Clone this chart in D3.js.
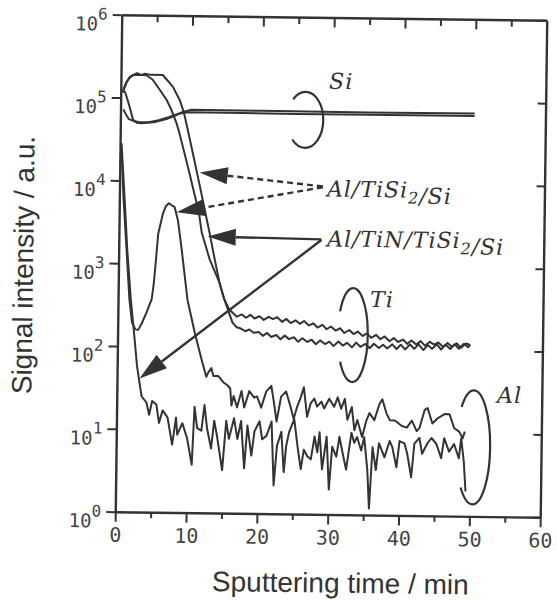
<!DOCTYPE html>
<html>
<head>
<meta charset="utf-8">
<script src="https://cdn.jsdelivr.net/npm/d3@7"></script>
<style>
  body { margin: 0; background: #fff; }
  svg { display: block; }
</style>
</head>
<body>
<svg id="drawing_region"></svg>
<script>
// axis ticks
const xMajor = [0, 10, 20, 30, 40, 50, 60];
const xMinor = [5, 15, 25, 35, 45, 55];
const yExponents = [0, 1, 2, 3, 4, 5, 6];

// [sputtering time (min), signal intensity (a.u.)]
const siA = [[0.4,7.2e4],[0.8,6.2e4],[1.2,5.5e4],[2.0,5.2e4],[2.6,5.1e4],[4.0,5.1e4],[5.4,5.4e4],[6.8,5.9e4],[8.2,6.5e4],[9.5,6.8e4],[15,6.8e4],[25,6.75e4],[35,6.8e4],[50,6.8e4]];
const siB = [[0.55,1.2e5],[1.0,9.3e4],[1.4,7.1e4],[1.8,5.4e4],[2.3,5.0e4],[3.0,4.95e4],[5.0,5.15e4],[6.5,5.6e4],[7.6,6.1e4],[8.7,6.8e4],[10,7.3e4],[20,7.3e4],[35,7.25e4],[50,7.3e4]];

const tiA = [[0.3,1.2e5],[0.5,1.35e5],[0.8,1.55e5],[1.25,1.78e5],[1.8,1.9e5],[2.3,1.98e5],[2.8,1.88e5],[3.4,1.96e5],[4.2,1.9e5],[5.9,1.9e5],
  [7.34,1.38e5],[8.35,9.5e4],[8.94,6.8e4],[9.53,4.2e4],[10.28,2.2e4],[11.03,1.15e4],[11.77,6.0e3],[12.37,3.5e3],[12.8,2.4e3],[13.5,1.23e3],[14.3,600],[15.0,380],[15.7,290],
  [16.2,263],[16.8,236],[17.5,252],[18.1,230],[18.7,250],[19.3,226],[20.0,241],[20.6,218],[21.3,238],[21.9,224],[22.5,236],[23.2,208],[23.8,226],[24.4,202],[25.1,218],[25.7,198],[26.3,214],[27.0,190],[27.6,202],[28.2,180],[28.9,194],[29.5,172],[30.1,186],[30.8,166],[31.4,178],[32.0,156],[32.7,170],[33.3,152],[33.9,163],[34.6,145],[35.2,156],[35.8,138],[36.5,150],[37.1,133],[37.7,144],[38.4,126],[39.0,138],[39.6,124],[40.3,133],[40.9,118],[41.5,130],[42.2,116],[42.8,128],[43.4,113],[44.1,126],[44.7,117],[45.3,124],[46.0,110],[46.6,123],[47.2,111],[47.9,122],[48.5,108],[49.2,122],[49.8,117]];
const tiB = [[0.3,1.15e5],[0.5,1.3e5],[0.8,1.52e5],[1.25,1.75e5],[1.8,1.88e5],[2.6,1.9e5],[3.6,1.88e5],
  [4.5,1.66e5],[5.5,1.26e5],[6.5,9.5e4],[7.2,7.2e4],[7.9,5.1e4],[8.36,3.8e4],[9.1,2.2e4],[9.84,1.26e4],[10.58,7.1e3],[11.2,4.5e3],[11.7,2.4e3],[12.86,1.15e3],[14.3,600],[15.0,380],
  [16.2,200],[16.8,176],[17.4,170],[18.0,158],[18.6,166],[19.2,152],[19.9,156],[20.5,140],[21.1,152],[21.7,136],[22.4,144],[23.0,128],[23.6,142],[24.2,129],[24.9,136],[25.5,120],[26.1,133],[26.8,120],[27.4,128],[28.0,113],[28.6,126],[29.3,114],[29.9,122],[30.5,108],[31.2,123],[31.8,110],[32.4,119],[33.1,105],[33.7,120],[34.3,107],[35.0,116],[35.6,103],[36.2,117],[36.9,104],[37.5,114],[38.1,103],[38.8,116],[39.4,102],[40.0,115],[40.6,101],[41.3,116],[41.9,103],[42.5,117],[43.2,100],[43.8,115],[44.4,104],[45.1,118],[45.7,102],[46.3,117],[47.0,104],[47.6,119],[48.2,105],[48.9,121],[49.5,110],[49.8,117]];

const alPeak = [[0.15,2.8e4],[0.35,1.5e4],[0.6,5.9e3],[1.1,1.5e3],[1.6,370],[2.0,195],[2.5,160],[2.9,158],[3.4,190],[4.05,257],[4.75,372],[5.0,560],[5.2,910],[5.55,2.3e3],[6.2,4.1e3],[6.6,5.0e3],[7.0,5.4e3],[7.4,5.1e3],[7.8,4.9e3],[8.3,3.4e3],[8.9,1.48e3],[9.8,372],[10.9,148],[11.9,71],[12.6,44],
  [12.9,50],[13.3,56],[13.6,45],[14.3,45],[15.0,38],[15.6,35],[16.0,32],[16.2,20],[16.5,26],[17.0,19],[17.6,30],[18.0,19],[18.7,30],[19.4,25],[19.8,26],[20.4,19],[21.1,30],[21.8,35],[22.2,22],[22.6,13],[23.2,26],[23.9,30],[24.6,19],[25.0,14],[25.5,20],[26.0,26],[26.4,34],[26.9,15],[27.4,22],[27.9,25],[28.3,20],[28.9,23],[29.3,19],[30.0,25],[30.7,20],[31.2,26],[31.7,19],[32.2,25],[32.6,14],[33.2,20],[33.6,10.5],[34.0,14],[34.7,8.7],[35.3,14],[35.7,17],[36.4,14],[37.1,22],[37.5,25],[38.1,17],[38.6,14],[39.3,14],[40.3,12],[41.0,11.5],[41.7,14],[42.4,10.5],[42.8,11.5],[43.5,19],[43.9,20],[44.6,13],[45.3,15],[46.3,17],[47.0,17],[47.7,11.5],[48.4,10.5],[48.9,8.7],[49.2,10.5]];
const alLow = [[0.2,2.8e4],[0.45,1.4e4],[0.75,5.9e3],[1.2,1.5e3],[1.8,370],[2.3,150],[2.8,58],[3.1,40],[3.5,25],[4.2,21],[4.6,15],[5.0,22],[5.6,20],[6.0,12],[6.5,17],[7.2,14],[7.9,6.6],[8.4,14],[8.6,8.7],[9.3,12],[10.0,7.9],[10.7,3.8],[11.0,19],[11.4,10.5],[12.0,9.8],[12.4,20],[12.8,10.5],[13.4,6],[13.8,13],[14.2,8.7],[15.0,3.3],[15.5,13],[15.9,7.9],[16.6,14],[17.1,7.9],[17.6,13],[18.1,3.5],[18.5,11.5],[19.1,5],[19.5,9.8],[20.2,13],[20.6,7.9],[21.2,8.7],[21.9,13],[22.3,2.2],[22.7,6.6],[23.3,9.8],[23.7,3.2],[24.0,6.6],[24.4,9.8],[25.1,14],[25.6,6.6],[26.1,3.5],[26.5,6],[27.0,5],[27.5,4.6],[28.0,8.7],[28.4,5.6],[28.7,9.8],[29.1,3.5],[29.7,8.7],[30.1,2.0],[30.5,6.6],[31.1,5],[31.5,8.7],[31.9,6],[32.5,3.5],[33.2,9.8],[33.6,7.4],[34.0,8.7],[34.6,6],[35.0,8.7],[35.5,3.5],[35.8,1.2],[36.2,6.6],[36.7,3.5],[37.1,7.4],[37.9,5],[38.6,7.9],[39.0,6.6],[39.6,3.8],[40.0,7.9],[40.7,7.4],[41.1,5.6],[41.7,2.9],[42.1,7.4],[42.8,8.7],[43.2,5.6],[43.9,7.4],[44.5,8.7],[45.2,7.4],[45.9,5],[46.3,8.7],[47.0,6],[47.7,7.4],[48.4,5],[48.7,8.7],[49.1,4.6],[49.4,2.0]];

const profiles = [siA, siB, tiA, tiB, alPeak, alLow];

const config = {
    parent: '#drawing_region',
    width: 557,
    height: 600,
    margin: {top: 17.5, right: 13.5, bottom: 85.5, left: 118.5},
    tilt: 0.75,
    ink: '#333333',
    xlabel: 'Sputtering time / min',
    ylabel: 'Signal intensity / a.u.'
};

const svg = d3.select(config.parent)
    .attr('width', config.width)
    .attr('height', config.height);

const inner_width = config.width - config.margin.left - config.margin.right;
const inner_height = config.height - config.margin.top - config.margin.bottom;
const cx = config.margin.left + inner_width / 2;
const cy = config.margin.top + inner_height / 2;

// the scanned figure sits slightly askew
const chart = svg.append('g')
    .attr('transform', `rotate(${config.tilt}, ${cx}, ${cy}) translate(${config.margin.left}, ${config.margin.top})`);

const xscale = d3.scaleLinear().domain([0, 60]).range([0, inner_width]);
const yscale = d3.scaleLog().domain([1, 1e6]).range([inner_height, 0]);

const monoFont = '"DejaVu Sans Mono", "Liberation Mono", monospace';
const serifFont = '"DejaVu Serif", "Liberation Serif", serif';
const sansFont = '"Liberation Sans", Arial, sans-serif';

function styleAxis(g) {
    g.selectAll('path.domain').attr('stroke', config.ink).attr('stroke-width', 2.4);
    g.selectAll('.tick line').attr('stroke', config.ink).attr('stroke-width', 2);
}

// bottom axis
chart.append('g')
    .attr('transform', `translate(0, ${inner_height})`)
    .call(d3.axisBottom(xscale).tickValues(xMajor).tickSize(10).tickSizeOuter(0).tickPadding(6))
    .call(styleAxis)
    .call(g => g.selectAll('.tick text')
        .attr('font-family', monoFont).attr('font-size', 20).attr('fill', '#444'));
chart.append('g')
    .attr('transform', `translate(0, ${inner_height})`)
    .call(d3.axisBottom(xscale).tickValues(xMinor).tickSize(6).tickSizeOuter(0).tickFormat(''))
    .call(styleAxis)
    .call(g => g.select('path.domain').remove());

// top axis, ticks inward
chart.append('g')
    .call(d3.axisTop(xscale).tickValues(xMajor.slice(1, -1)).tickSize(-10).tickSizeOuter(0).tickFormat(''))
    .call(styleAxis);
chart.append('g')
    .call(d3.axisTop(xscale).tickValues(xMinor).tickSize(-7).tickSizeOuter(0).tickFormat(''))
    .call(styleAxis)
    .call(g => g.select('path.domain').remove());

// left axis
const decades = yExponents.map(e => Math.pow(10, e));
chart.append('g')
    .call(d3.axisLeft(yscale).tickValues(decades).tickSize(9).tickSizeOuter(0).tickFormat(''))
    .call(styleAxis);

// right axis, ticks inward
chart.append('g')
    .attr('transform', `translate(${inner_width}, 0)`)
    .call(d3.axisRight(yscale).tickValues(decades).tickSize(-8).tickSizeOuter(0).tickFormat(''))
    .call(styleAxis);

// 10^n labels
const ylab = chart.append('g')
    .attr('font-family', monoFont)
    .attr('fill', '#444')
    .attr('text-anchor', 'end');
yExponents.forEach(e => {
    const t = ylab.append('text')
        .attr('x', -14)
        .attr('y', yscale(Math.pow(10, e)) + 16)
        .attr('font-size', 19);
    t.append('tspan').text('10');
    t.append('tspan').attr('dy', -11).attr('font-size', 16).text(e);
});

// profiles
const line = d3.line()
    .x(d => xscale(d[0]))
    .y(d => yscale(d[1]));

chart.append('g')
    .selectAll('path')
    .data(profiles)
    .join('path')
    .attr('d', line)
    .attr('fill', 'none')
    .attr('stroke', config.ink)
    .attr('stroke-width', 2)
    .attr('stroke-linejoin', 'round');

// annotations (placed in data coordinates)
const notes = chart.append('g').attr('fill', config.ink).attr('stroke', config.ink);

function arrow(from, to, dashed) {
    const x0 = xscale(from[0]), y0 = yscale(from[1]);
    const x1 = xscale(to[0]), y1 = yscale(to[1]);
    const len = Math.hypot(x0 - x1, y0 - y1);
    const ux = (x0 - x1) / len, uy = (y0 - y1) / len;
    const hl = 28, hw = 8.5;
    const bx = x1 + ux * hl, by = y1 + uy * hl;
    notes.append('line')
        .attr('x1', x0).attr('y1', y0).attr('x2', bx).attr('y2', by)
        .attr('stroke-width', 2.4)
        .attr('stroke-dasharray', dashed ? '6,4' : null);
    notes.append('path')
        .attr('d', `M${x1},${y1}L${bx - uy * hw},${by + ux * hw}L${bx + uy * hw},${by - ux * hw}Z`)
        .attr('stroke', 'none');
}

function bracket(center, rx, ry, a0, a1) {
    const px = xscale(center[0]), py = yscale(center[1]);
    const r0 = a0 * Math.PI / 180, r1 = a1 * Math.PI / 180;
    const sx = px + rx * Math.cos(r0), sy = py + ry * Math.sin(r0);
    const ex = px + rx * Math.cos(r1), ey = py + ry * Math.sin(r1);
    notes.append('path')
        .attr('d', `M${sx},${sy}A${rx},${ry} 0 1 1 ${ex},${ey}`)
        .attr('fill', 'none')
        .attr('stroke-width', 2.2);
}

// parts: plain strings, or [text] for a subscript
function label(pos, parts) {
    const t = notes.append('text')
        .attr('x', xscale(pos[0]))
        .attr('y', yscale(pos[1]))
        .attr('stroke', 'none')
        .attr('font-family', serifFont)
        .attr('font-style', 'italic')
        .attr('font-size', 22)
        .attr('letter-spacing', 1);
    parts.forEach(p => {
        if (Array.isArray(p)) {
            t.append('tspan').attr('dy', 6).attr('font-size', 16).text(p[0]);
            t.append('tspan').attr('dy', -6).text('');
        } else {
            t.append('tspan').text(p);
        }
    });
}

arrow([28.7, 9.1e3], [11.3, 1.28e4], true);
arrow([28.7, 8.9e3], [8.1, 4.2e3], true);
arrow([28.6, 2.09e3], [12.55, 2.17e3], false);
arrow([28.6, 2.05e3], [3.17, 41], false);

bracket([26.1, 5.75e4], 18, 28, -133, 135);
bracket([33.2, 148], 15, 47, -150, 145);
bracket([50.4, 6.8], 17, 57, -135, 135);

label([29.4, 1.38e5], ['Si']);
label([35.6, 324], ['Ti']);
label([53.7, 23.7], ['Al']);
label([29.3, 6.9e3], ['Al/TiSi', ['2'], '/Si']);
label([29.4, 1.72e3], ['Al/TiN/TiSi', ['2'], '/Si']);

// axis titles
chart.append('text')
    .attr('x', inner_width / 2 + 13.5)
    .attr('y', inner_height + 78)
    .attr('text-anchor', 'middle')
    .attr('font-family', sansFont)
    .attr('font-size', 28)
    .attr('fill', '#333')
    .text(config.xlabel);

chart.append('text')
    .attr('transform', `translate(-85.5, ${inner_height / 2 + 3}) rotate(-90)`)
    .attr('text-anchor', 'middle')
    .attr('font-family', sansFont)
    .attr('font-size', 28)
    .attr('fill', '#333')
    .text(config.ylabel);
</script>
</body>
</html>
